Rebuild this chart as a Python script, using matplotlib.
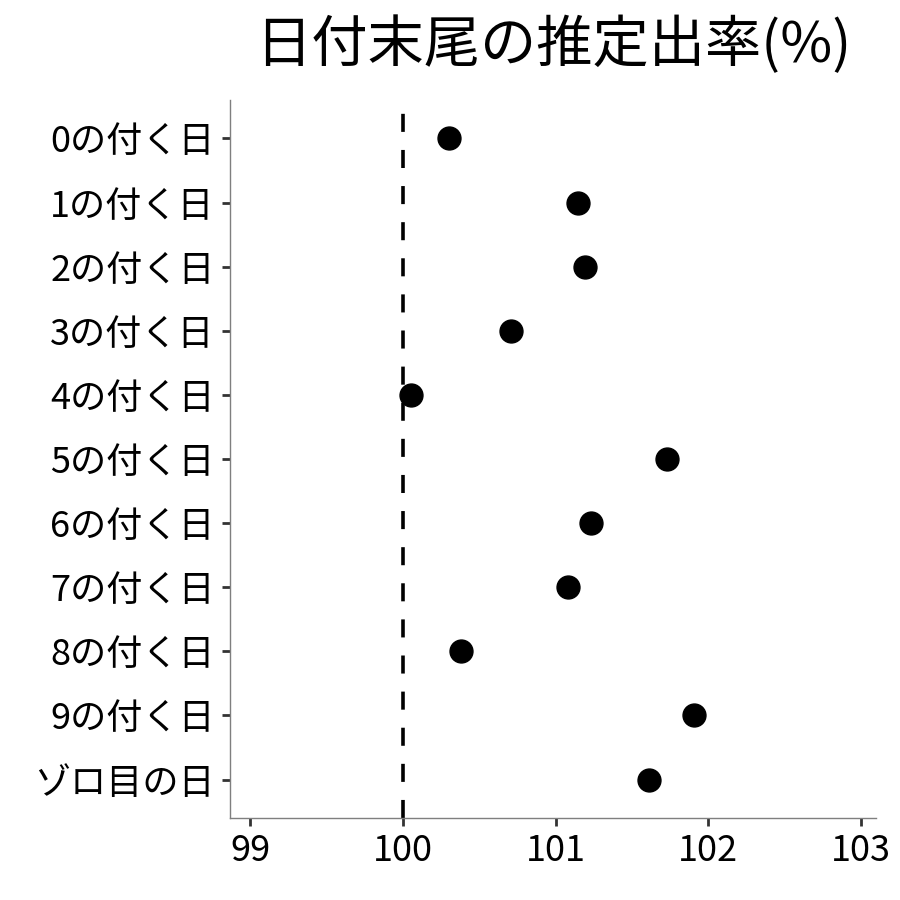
import matplotlib
matplotlib.use("Agg")
import matplotlib.pyplot as plt

plt.rcParams['font.family'] = ['Noto Sans CJK JP', 'DejaVu Sans']

labels = ["0の付く日", "1の付く日", "2の付く日", "3の付く日", "4の付く日",
          "5の付く日", "6の付く日", "7の付く日", "8の付く日", "9の付く日",
          "ゾロ目の日"]
rates = [100.30, 101.15, 101.19, 100.71, 100.05,
         101.73, 101.23, 101.08, 100.38, 101.91, 101.61]
xticks = [99, 100, 101, 102, 103]
baseline = 100

fig = plt.figure(figsize=(9, 9), dpi=100)
ax = fig.add_axes([0.2556, 0.0911, 0.9733 - 0.2556, 0.8889 - 0.0911])

ypos = list(range(len(labels)))
ax.axvline(baseline, color="black", lw=2.6, linestyle=(0, (5.0, 5.0)), zorder=1)
ax.plot(rates, ypos, "o", color="black", ms=16.5, zorder=2)

ax.set_yticks(ypos)
ax.set_yticklabels(labels)
ax.set_xticks(xticks)
ax.set_xticklabels([str(t) for t in xticks])
ax.set_ylim(len(labels) - 1 + 0.6, -0.6)
ax.set_xlim(98.866, 103.10)

for s in ["top", "right"]:
    ax.spines[s].set_visible(False)
for s in ["left", "bottom"]:
    ax.spines[s].set_color("#7f7f7f")
    ax.spines[s].set_linewidth(1.0)

ax.tick_params(axis="both", length=6, width=2.0, color="#333333",
               labelsize=26, labelcolor="black", pad=5)

fig.text(0.615, 0.949, "日付末尾の推定出率(%)", ha="center", va="center", fontsize=40.5)

fig.savefig("out.png", dpi=100)
plt.close(fig)
